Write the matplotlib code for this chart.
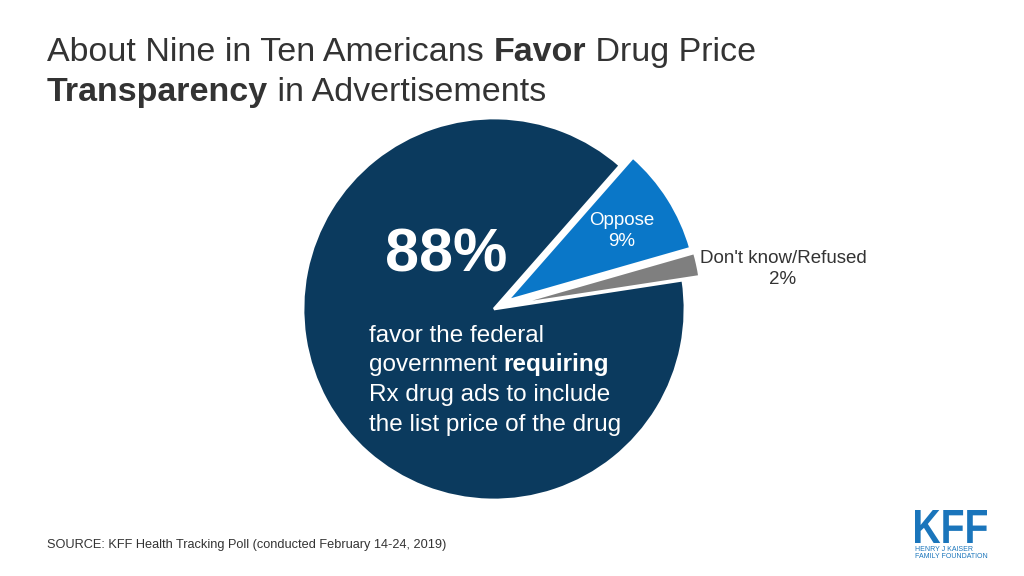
import matplotlib.pyplot as plt
from matplotlib.textpath import TextPath
from matplotlib.patches import PathPatch
from matplotlib.font_manager import FontProperties
from matplotlib.transforms import Affine2D, IdentityTransform

plt.rcParams['font.family'] = ['Liberation Sans', 'DejaVu Sans']

# data
labels = ['Oppose', "Don't know/Refused", 'Favor']
valores = [9, 2, 88]
colores = ['#0a77c8', '#7f7f7f', '#0b3a5e']
explotar = [0.08, 0.09, 0]

W, H = 1024, 576
fig = plt.figure(figsize=(W / 100, H / 100), dpi=100)

def px(x, y):
    return x / W, 1 - y / H

# pie: center (494, 309) px, radius 191 px
L = 1.2
cx, cy, R = 494, 309, 191
ax = fig.add_axes([(cx - R * L) / W, (H - cy - R * L) / H, 2 * R * L / W, 2 * R * L / H])
ax.pie(valores, colors=colores, explode=explotar, startangle=48.7, counterclock=False,
       radius=1, wedgeprops={'edgecolor': 'white', 'linewidth': 2})
ax.set_xlim(-L, L)
ax.set_ylim(-L, L)
ax.axis('off')

# line of text with mixed weights, each piece chained on the previous bbox
def linea(partes, x, y, size, color):
    prev = fig.text(*px(x, y), partes[0][0], fontsize=size, color=color,
                    fontweight=partes[0][1], va='baseline', ha='left')
    for txt, peso in partes[1:]:
        prev = fig.add_artist(plt.Annotation(txt, xy=(1, 0), xycoords=prev, fontsize=size,
                                             color=color, fontweight=peso,
                                             va='bottom', ha='left'))
    return prev

tc = '#333333'
linea([('About Nine in Ten Americans ', 'normal'), ('Favor', 'bold'), (' Drug Price', 'normal')],
      47, 61, 24.5, tc)
linea([('Transparency', 'bold'), (' in Advertisements', 'normal')], 47, 101, 24.5, tc)

# labels inside pie
fig.text(*px(446, 272), '88%', fontsize=44, fontweight='bold', color='white',
         ha='center', va='baseline')
lineas = [[('favor the federal', 'normal')],
          [('government ', 'normal'), ('requiring', 'bold')],
          [('Rx drug ads to include', 'normal')],
          [('the list price of the drug', 'normal')]]
for i, ln in enumerate(lineas):
    linea(ln, 369, 342 + i * 29.5, 17.5, 'white')

fig.text(*px(622, 231), 'Oppose\n9%', fontsize=13.5, color='white', ha='center',
         va='center', linespacing=1.3)
fig.text(*px(783, 269), "Don't know/Refused\n2%", fontsize=13.5, color=tc, ha='center',
         va='center', linespacing=1.35)

fig.text(*px(47, 545), 'SOURCE: KFF Health Tracking Poll (conducted February 14-24, 2019)',
         fontsize=9.15, color=tc, ha='left', va='center')

# logo
azul = '#1a75bb'
tp = TextPath((0, 0), 'KFF', size=40, prop=FontProperties(family='Liberation Sans', weight='bold'))
ext = tp.get_extents()
tr = Affine2D().translate(-ext.x0, -ext.y0).scale(72 / ext.width, 33 / ext.height) \
    .translate(915, H - 543)
fig.add_artist(PathPatch(tp, transform=tr + IdentityTransform(), facecolor=azul,
                         edgecolor='none'))
fig.text(*px(915, 553), 'HENRY J KAISER\nFAMILY FOUNDATION', fontsize=5.0, color=azul,
         ha='left', va='center', linespacing=1.15)

fig.savefig('out.png', dpi=100, facecolor='white')
